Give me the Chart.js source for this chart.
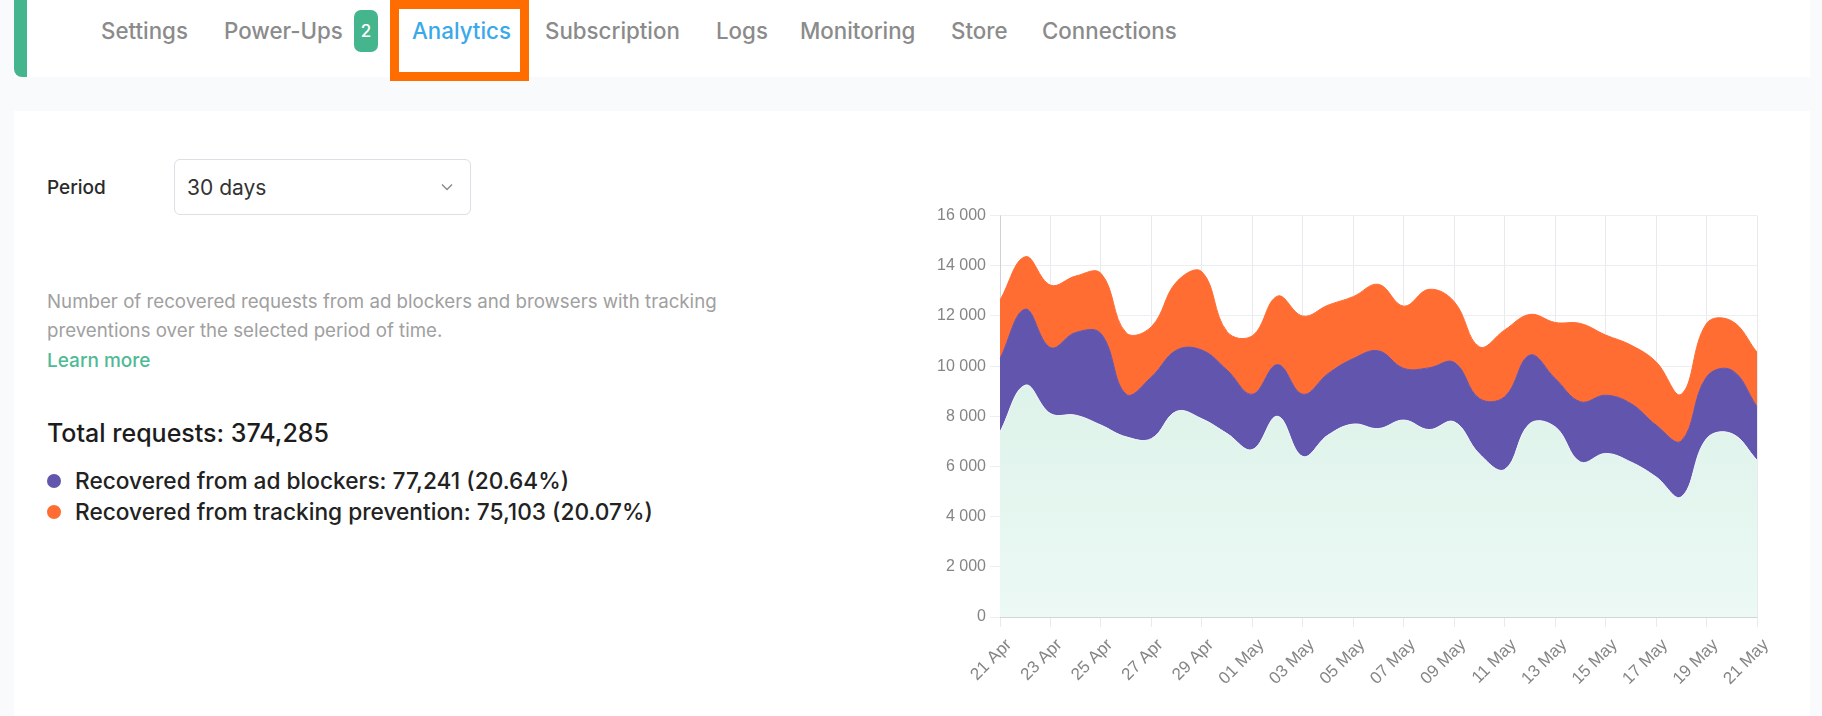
<!DOCTYPE html>
<html>
<head>
<meta charset="utf-8">
<title>Analytics</title>
<script src="https://cdn.jsdelivr.net/npm/chart.js@4"></script>
<style>
  html, body { margin:0; padding:0; width:1822px; height:716px; overflow:hidden; background:#f8fafb; font-family:Inter, "Open Sans", sans-serif; }
  .abs { position:absolute; white-space:nowrap; line-height:1; transform:translateY(-50%); }
  #tabbar { position:absolute; left:14px; top:0; width:1796px; height:77px; background:#fff; }
  #accent { position:absolute; left:14px; top:0; width:13px; height:77px; background:#45b58e; border-radius:0 0 0 8px; }
  #panel { position:absolute; left:14px; top:111px; width:1796px; height:605px; background:#fff; }
  .tab { font-size:22.3px; font-weight:500; color:#8b8b8b; top:31px; }
  #badge { position:absolute; left:354px; top:10px; width:24px; height:42px; border-radius:7px; background:#45b58e; color:#fff; font-size:17px; font-weight:500; line-height:42px; text-align:center; }
  #hl { position:absolute; left:390px; top:0; width:139px; height:81px; box-sizing:border-box; border:9px solid #ff6d00; }
  #select { position:absolute; left:174px; top:159px; width:297px; height:56px; box-sizing:border-box; border:1px solid #dcdfe3; border-radius:6px; background:#fff; }
  .desc { font-size:18.7px; color:#a0a0a0; left:47px; }
  .stat { font-size:22.7px; font-weight:500; color:#222; left:75px; }
  .dot { position:absolute; width:14px; height:14px; border-radius:50%; left:47px; }
  #chart-box { position:absolute; left:920px; top:202px; width:860px; height:514px; }
</style>
</head>
<body>
<div id="tabbar"></div>
<div id="accent"></div>
<div id="panel"></div>

<div class="abs tab" style="left:101px">Settings</div>
<div class="abs tab" style="left:224px">Power-Ups</div>
<div id="badge">2</div>
<div class="abs tab" style="left:412px;color:#3aa9ea">Analytics</div>
<div id="hl"></div>
<div class="abs tab" style="left:545px">Subscription</div>
<div class="abs tab" style="left:716px">Logs</div>
<div class="abs tab" style="left:800px">Monitoring</div>
<div class="abs tab" style="left:951px">Store</div>
<div class="abs tab" style="left:1042px">Connections</div>

<div class="abs" style="left:47px;top:187px;font-size:19px;font-weight:500;color:#2a2a2a">Period</div>
<div id="select"></div>
<div class="abs" style="left:187px;top:187px;font-size:21px;color:#333">30 days</div>
<svg style="position:absolute;left:440px;top:183px" width="14" height="9"><path d="M2 1.5 L7 6.5 L12 1.5" fill="none" stroke="#8a8a8a" stroke-width="1.4"/></svg>

<div class="abs desc" style="top:302px">Number of recovered requests from ad blockers and browsers with tracking</div>
<div class="abs desc" style="top:331px">preventions over the selected period of time.</div>
<div class="abs" style="left:47px;top:360px;font-size:19px;font-weight:500;color:#4fba95">Learn more</div>
<div class="abs" style="left:47px;top:433px;font-size:25px;font-weight:500;color:#1c1c1c">Total requests: 374,285</div>
<div class="dot" style="top:474px;background:#6255ad"></div>
<div class="abs stat" style="top:481px">Recovered from ad blockers: 77,241 (20.64%)</div>
<div class="dot" style="top:505px;background:#ff6d33"></div>
<div class="abs stat" style="top:512px">Recovered from tracking prevention: 75,103 (20.07%)</div>

<div id="chart-box"><canvas id="ch-requests"></canvas></div>

<script>
const days = ['21 Apr','22 Apr','23 Apr','24 Apr','25 Apr','26 Apr','27 Apr','28 Apr','29 Apr','30 Apr','01 May','02 May','03 May','04 May','05 May','06 May','07 May','08 May','09 May','10 May','11 May','12 May','13 May','14 May','15 May','16 May','17 May','18 May','19 May','20 May','21 May'];
const direct = [7380,9240,8110,8045,7650,7180,7110,8200,7900,7310,6675,8000,6400,7250,7690,7510,7850,7470,7780,6500,5880,7710,7580,6180,6520,6180,5585,4790,7110,7310,6250];
const adBlockers = [2920,3030,2630,3295,3650,1700,2460,2440,2740,2530,2205,2060,2480,2450,2610,3100,2060,2460,2370,2210,2900,2730,1930,2400,2320,2330,2065,2230,2460,2530,2130];
const tracking = [2330,2090,2490,2250,2400,2450,2000,2720,3120,1530,2330,2730,3115,2730,2470,2650,2480,3130,2420,2060,2660,1620,2230,3120,2400,2330,2520,1860,2130,1960,2170];

// pale green fading towards the axis
const greenFill = ctx => {
  const a = ctx.chart.chartArea;
  if (!a) return '#e4f5ee';
  const g = ctx.chart.ctx.createLinearGradient(0, a.top + 150, 0, a.bottom);
  g.addColorStop(0, '#dcf2e9');
  g.addColorStop(1, '#ecf9f4');
  return g;
};

const yFont = {family:'"Liberation Sans", Arial, sans-serif', size:16};
const xFont = {family:'"Liberation Sans", Arial, sans-serif', size:17};

new Chart(document.getElementById('ch-requests'), {
  type:'line',
  data:{
    labels:days,
    datasets:[
      {label:'Requests', data:direct, backgroundColor:greenFill, borderColor:'#eef4fb', borderWidth:1, fill:'origin', pointRadius:0, tension:.4},
      {label:'Ad blockers', data:adBlockers, backgroundColor:'#6255ad', borderColor:'#6255ad', borderWidth:1, fill:'-1', pointRadius:0, tension:.4},
      {label:'Tracking prevention', data:tracking, backgroundColor:'#ff6d33', borderColor:'#ff6d33', borderWidth:1, fill:'-1', pointRadius:0, tension:.4},
    ]
  },
  options:{
    responsive:true, maintainAspectRatio:false, animation:false,
    layout:{padding:{top:6, right:23, left:0, bottom:0}},
    plugins:{legend:{display:false}, tooltip:{enabled:false}},
    scales:{
      x:{
        stacked:true, offset:false,
        afterFit:s => { s.height = 99; },
        grid:{color:c => c.index % 2 === 0 ? '#e9eaee' : 'transparent', tickLength:10},
        ticks:{color:'#858585', font:xFont, autoSkip:false, minRotation:45, maxRotation:45, padding:8, labelOffset:9,
          callback:(v,i) => i % 2 === 0 ? days[i] : ''}
      },
      y:{
        stacked:true, min:0, max:16000,
        afterFit:s => { s.width = 80; },
        grid:{color:'#eceef1', tickLength:10},
        ticks:{color:'#858585', font:yFont, stepSize:2000, padding:4,
          callback:v => String(v).replace(/\B(?=(\d{3})+$)/g,' ')}
      }
    }
  }
});
</script>
</body>
</html>
